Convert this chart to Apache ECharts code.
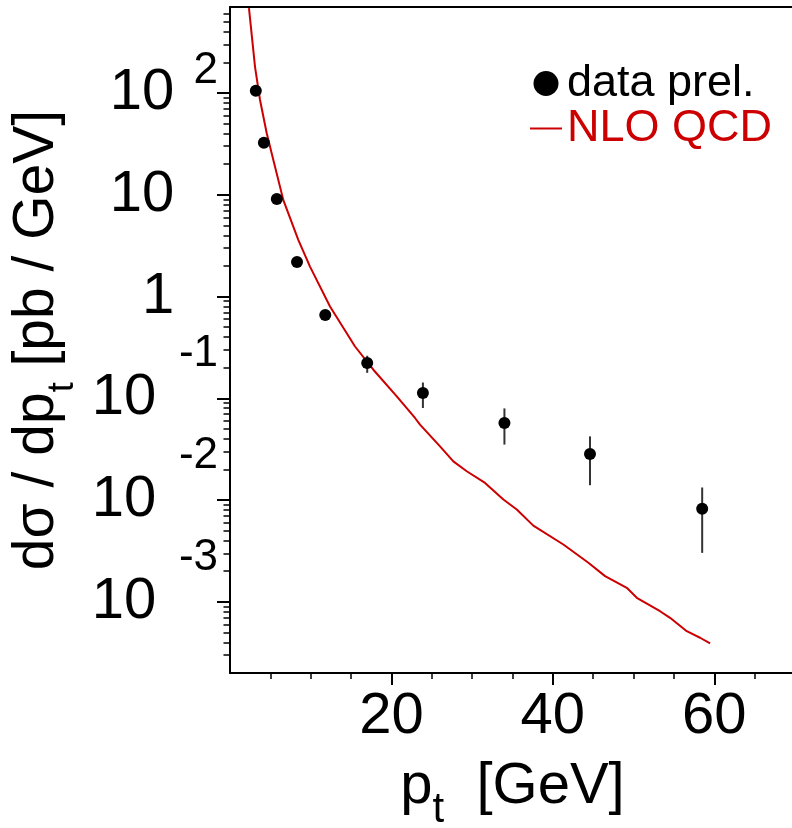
<!DOCTYPE html>
<html><head><meta charset="utf-8">
<script src="https://cdn.jsdelivr.net/npm/echarts@6/dist/echarts.min.js"></script>
<style>html,body{margin:0;padding:0;background:#fff}#c{width:792px;height:828px}</style>
</head><body><div id="c"></div>
<script>
// ---- data ----
const dataPt   = [3.2, 4.2, 5.8, 8.3, 11.8, 17.0, 23.9, 34.0, 44.6, 58.5];
const dataVal  = [105, 32.5, 9.1, 2.19, 0.658, 0.222, 0.113, 0.0573, 0.0284, 0.0082];
const errLow   = [null, null, null, null, null, 0.178, 0.0803, 0.0351, 0.0140, 0.00303];
const errHigh  = [null, null, null, null, null, 0.262, 0.143, 0.0796, 0.0423, 0.0133];

const nloPt  = [2.35, 3.10, 3.72, 4.55, 5.37, 6.60, 8.46, 9.91, 12.39, 15.49, 17.76, 20.66, 22.92, 23.54, 26.02, 27.67, 29.33, 31.60, 33.87, 35.53, 37.58, 41.30, 44.40, 46.47, 49.16, 50.40, 53.28, 54.52, 56.59, 58.24, 59.48];
const nloVal = [682, 181, 85.4, 40.2, 22.0, 8.91, 3.61, 1.97, 0.798, 0.323, 0.191, 0.1044, 0.0641, 0.0551, 0.0337, 0.0240, 0.0192, 0.01475, 0.01012, 0.00807, 0.00561, 0.00366, 0.00242, 0.00179, 0.001374, 0.001096, 0.000809, 0.000697, 0.000515, 0.000444, 0.00039];

const xMajorTicks = [20, 40, 60];
const xMinorTicks = [5, 10, 15, 25, 30, 35, 45, 50, 55, 65];
const yDecades   = [1e-3, 1e-2, 1e-1, 1, 10, 100];
const yTickBase  = ['10', '10', '10', '1', '10', '10'];
const yTickExp   = ['-3', '-2', '-1', '', '', '2'];
const yMinorTicks = [];
for (let k = -4; k <= 2; k++) for (let m = 2; m <= 9; m++) {
  const v = +(m * Math.pow(10, k)).toPrecision(6);
  if (v > 2e-4 && v < 700) yMinorTicks.push(v);
}

const FONT = '"Liberation Sans", Arial, Helvetica, sans-serif';
const RED = '#cc0000';

const chart = echarts.init(document.getElementById('c'), null, {renderer: 'canvas'});

function yLabel(v) {
  let idx = 0, best = Infinity;
  yDecades.forEach((d, i) => { const diff = Math.abs(Math.log10(d) - Math.log10(v)); if (diff < best) { best = diff; idx = i; } });
  const b = yTickBase[idx], e = yTickExp[idx];
  if (!e) return '{b0|' + b + '}';
  if (e.charAt(0) === '-') return '{b|' + b + '}{n|' + e + '}';
  return '{b|' + b + '}{e|' + e + '}';
}

const option = {
  animation: false,
  backgroundColor: '#fff',
  grid: {left: 230, top: 7, right: -3, bottom: 155, show: true, borderColor: '#000', borderWidth: 2,
         backgroundColor: 'transparent', containLabel: false, outerBoundsMode: 'none'},
  legend: {
    orient: 'vertical', left: 530, top: 61, padding: 0, itemWidth: 32, itemHeight: 25, itemGap: 0,
    selectedMode: false,
    textStyle: {fontSize: 45, fontFamily: FONT, color: '#000'},
    data: [
      {name: 'data prel.', icon: 'circle', itemStyle: {color: '#000', opacity: 1}},
      {name: 'NLO QCD', icon: 'path://M0,0L32,0L32,2L0,2Z', itemStyle: {color: RED, opacity: 1}, textStyle: {color: RED}}
    ]
  },
  xAxis: [
    {
      type: 'value', min: 0, max: 70, position: 'bottom',
      axisLine: {show: true, onZero: false, lineStyle: {color: '#000', width: 2}},
      axisTick: {show: true, customValues: xMajorTicks, length: 12, lineStyle: {color: '#000', width: 2}},
      axisLabel: {show: true, customValues: xMajorTicks, margin: 15, fontSize: 58, color: '#000', fontFamily: FONT},
      splitLine: {show: false},
      name: '{a|p}{s|t}{a|  [GeV]}',
      nameLocation: 'middle', nameGap: 69,
      nameTextStyle: {color: '#000', fontFamily: FONT, rich: {
        a: {fontSize: 58, fontFamily: FONT, color: '#000'},
        s: {fontSize: 42, fontFamily: FONT, color: '#000', padding: [47, 0, 0, 0]}
      }}
    },
    {
      type: 'value', min: 0, max: 70, position: 'bottom',
      axisLine: {show: false, onZero: false},
      axisTick: {show: true, customValues: xMinorTicks, length: 6, lineStyle: {color: '#000', width: 1.5}},
      axisLabel: {show: false},
      splitLine: {show: false}
    }
  ],
  yAxis: [
    {
      type: 'log', logBase: 10, min: 2e-4, max: 700, position: 'left',
      axisLine: {show: true, onZero: false, lineStyle: {color: '#000', width: 2}},
      axisTick: {show: true, customValues: yDecades, length: 13, lineStyle: {color: '#000', width: 2}},
      axisLabel: {show: true, customValues: yDecades, margin: 12, color: '#000', fontFamily: FONT,
        formatter: yLabel,
        rich: {
          b0: {fontSize: 58, fontFamily: FONT, color: '#000', padding: [0, 43.7, 0, 0]},
          b:  {fontSize: 58, fontFamily: FONT, color: '#000'},
          e:  {fontSize: 44, fontFamily: FONT, color: '#000', padding: [0, 0, 44, 19.2]},
          n:  {fontSize: 44, fontFamily: FONT, color: '#000', padding: [0, 0, 89, 22.6]}
        }},
      splitLine: {show: false},
      name: '{a|dσ / dp}{s|t}{a| [pb / GeV]}',
      nameLocation: 'middle', nameRotate: 90, nameGap: 141,
      nameTextStyle: {color: '#000', fontFamily: FONT, rich: {
        a: {fontSize: 57, fontFamily: FONT, color: '#000'},
        s: {fontSize: 36, fontFamily: FONT, color: '#000', padding: [51, 0, 0, 0]}
      }}
    },
    {
      type: 'log', logBase: 10, min: 2e-4, max: 700, position: 'left',
      axisLine: {show: false, onZero: false},
      axisTick: {show: true, customValues: yMinorTicks, length: 6.5, lineStyle: {color: '#000', width: 1.5}},
      axisLabel: {show: false},
      splitLine: {show: false}
    }
  ],
  series: [
    {
      type: 'custom', name: 'errors', xAxisIndex: 0, yAxisIndex: 0, z: 2, silent: true,
      data: dataPt.map((x, i) => [x, errLow[i], errHigh[i]]).filter(d => d[1] != null),
      encode: {x: 0, y: [1, 2]},
      renderItem: function (params, api) {
        const p1 = api.coord([api.value(0), api.value(1)]);
        const p2 = api.coord([api.value(0), api.value(2)]);
        return {type: 'line', shape: {x1: p1[0], y1: p1[1], x2: p2[0], y2: p2[1]},
                style: {stroke: '#333', lineWidth: 2}};
      }
    },
    {
      type: 'line', name: 'NLO QCD', xAxisIndex: 0, yAxisIndex: 0, z: 3,
      data: nloPt.map((x, i) => [x, nloVal[i]]),
      symbol: 'none', showSymbol: false, clip: true,
      lineStyle: {color: RED, width: 2}, itemStyle: {color: RED}
    },
    {
      type: 'scatter', name: 'data prel.', xAxisIndex: 0, yAxisIndex: 0, z: 4,
      data: dataPt.map((x, i) => [x, dataVal[i]]),
      symbol: 'circle', symbolSize: 12, itemStyle: {color: '#000', opacity: 1}
    }
  ]
};
chart.setOption(option);
</script></body></html>
